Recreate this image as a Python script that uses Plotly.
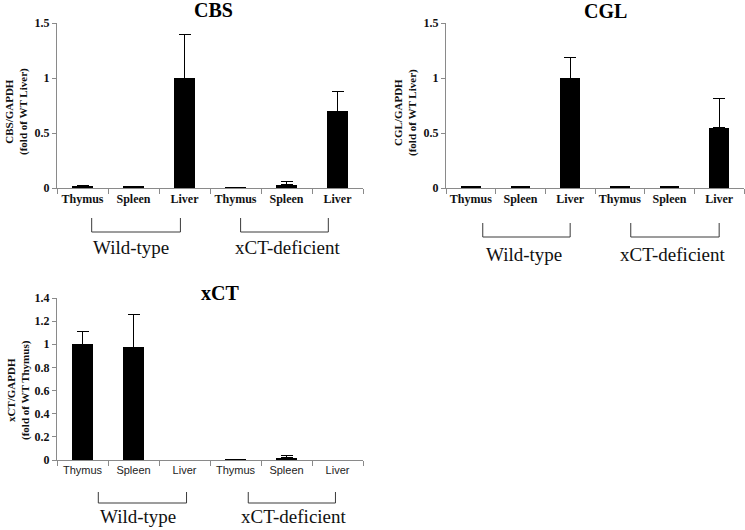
import plotly.graph_objects as go

# ---------------- data ----------------
categories = ["Thymus", "Spleen", "Liver", "Thymus", "Spleen", "Liver"]
groups = ["Wild-type", "xCT-deficient"]
group_members = [[0, 1, 2], [3, 4, 5]]

cbs_vals = [0.01, 0.01, 1.00, 0.005, 0.03, 0.70]
cbs_err = [0.015, 0.005, 0.40, 0.0, 0.03, 0.18]

cgl_vals = [0.01, 0.01, 1.00, 0.01, 0.01, 0.55]
cgl_err = [0.0, 0.0, 0.19, 0.0, 0.0, 0.265]

xct_vals = [1.00, 0.975, 0.0, 0.005, 0.02, 0.0]
xct_err = [0.11, 0.285, 0.0, 0.0, 0.015, 0.0]

W, H = 745, 530
SERIF = "Liberation Serif, Times New Roman, serif"
SANS = "Liberation Sans, Arial, sans-serif"
AXIS_GREY = "#8a8a8a"

def px_x(p):
    return p / W

def px_y(p):
    return 1 - p / H

panels = [
    dict(name="CBS", vals=cbs_vals, err=cbs_err, ylab="CBS/GAPDH<br>(fold of WT Liver)",
         xdom=(57, 363), ydom=(188, 23), yrange=[0, 1.5], dtick=0.5,
         title_xy=(213, 10), lab_x=17, lab_y=112,
         br_off=[(0.18, -0.08), (0.1, -0.18)], br_y=(218, 232), grp_y=247,
         grp_off=[-0.04, 0.02], xfont=dict(family=SERIF, size=12, color="#111", weight="bold")),
    dict(name="CGL", vals=cgl_vals, err=cgl_err, ylab="CGL/GAPDH<br>(fold of WT Liver)",
         xdom=(446, 744), ydom=(188, 23), yrange=[0, 1.5], dtick=0.5,
         title_xy=(605, 11), lab_x=405, lab_y=113,
         br_off=[(0.24, 0.0), (0.22, 0.0)], br_y=(223, 237), grp_y=254,
         grp_off=[0.08, 0.08], xfont=dict(family=SERIF, size=12, color="#111", weight="bold")),
    dict(name="xCT", vals=xct_vals, err=xct_err, ylab="xCT/GAPDH<br>(fold of WT Thymus)",
         xdom=(57, 363), ydom=(460, 298), yrange=[0, 1.4], dtick=0.2,
         title_xy=(220, 293), lab_x=18, lab_y=390,
         br_off=[(0.31, 0.04), (0.25, -0.04)], br_y=(492, 503), grp_y=516,
         grp_off=[0.08, 0.14], xfont=dict(family=SANS, size=11, color="#222")),
]

fig = go.Figure()
shapes = []
annotations = []

for i, p in enumerate(panels):
    sfx = "" if i == 0 else str(i + 1)
    xs = list(range(len(categories)))
    fig.add_trace(go.Bar(
        x=xs, y=p["vals"], width=0.4,
        marker=dict(color="black", line=dict(width=0)),
        error_y=dict(type="data", symmetric=False, array=p["err"],
                     arrayminus=[0] * len(p["err"]), color="black",
                     thickness=1, width=6),
        xaxis="x" + sfx, yaxis="y" + sfx, showlegend=False,
    ))
    fig.update_layout(**{
        "xaxis" + sfx: dict(
            domain=[px_x(p["xdom"][0]), px_x(p["xdom"][1])],
            anchor="y" + sfx, range=[-0.5, len(categories) - 0.5],
            tickvals=xs, ticktext=categories, ticks="",
            minor=dict(tickvals=[k - 0.5 for k in range(len(categories) + 1)],
                       ticks="outside", ticklen=5, tickcolor=AXIS_GREY, showgrid=False),
            showline=True, linecolor=AXIS_GREY, linewidth=1,
            showgrid=False, zeroline=False, tickfont=p["xfont"],
            fixedrange=True, automargin=False,
        ),
        "yaxis" + sfx: dict(
            domain=[px_y(p["ydom"][0]), px_y(p["ydom"][1])],
            anchor="x" + sfx, range=p["yrange"], dtick=p["dtick"], tick0=0,
            ticks="outside", ticklen=4, tickcolor=AXIS_GREY,
            showline=True, linecolor=AXIS_GREY, linewidth=1,
            showgrid=False, zeroline=False,
            tickfont=dict(family=SERIF, size=12, color="#111", weight="bold"),
            fixedrange=True, automargin=False,
        ),
    })
    # title
    annotations.append(dict(text="<b>%s</b>" % p["name"], xref="paper", yref="paper",
                            x=px_x(p["title_xy"][0]), y=px_y(p["title_xy"][1]),
                            xanchor="center", yanchor="middle", showarrow=False,
                            font=dict(family=SERIF, size=20, color="black")))
    # y label
    annotations.append(dict(text="<b>%s</b>" % p["ylab"], xref="paper", yref="paper",
                            x=px_x(p["lab_x"]), y=px_y(p["lab_y"]), textangle=-90,
                            xanchor="center", yanchor="middle", showarrow=False,
                            font=dict(family=SERIF, size=11, color="#111")))
    # group brackets and labels
    for g, members in enumerate(group_members):
        a = members[0] + p["br_off"][g][0]
        b = members[-1] + p["br_off"][g][1]
        y0, y1 = px_y(p["br_y"][0]), px_y(p["br_y"][1])
        shapes.append(dict(type="path", xref="x" + sfx, yref="paper",
                           path="M %f,%f L %f,%f L %f,%f L %f,%f" % (a, y0, a, y1, b, y1, b, y0),
                           line=dict(color="#3a3a3a", width=1)))
        annotations.append(dict(text=groups[g], xref="x" + sfx, yref="paper",
                                x=(members[0] + members[-1]) / 2 + p["grp_off"][g],
                                y=px_y(p["grp_y"]), xanchor="center", yanchor="middle",
                                showarrow=False,
                                font=dict(family=SERIF, size=19, color="#111")))

fig.update_layout(
    width=W, height=H, margin=dict(l=0, r=0, t=0, b=0, pad=0, autoexpand=False),
    paper_bgcolor="white", plot_bgcolor="white",
    bargap=0, shapes=shapes, annotations=annotations,
)

fig.write_html("out.html", config={"displayModeBar": False},
               post_script="document.body.style.margin='0';")
